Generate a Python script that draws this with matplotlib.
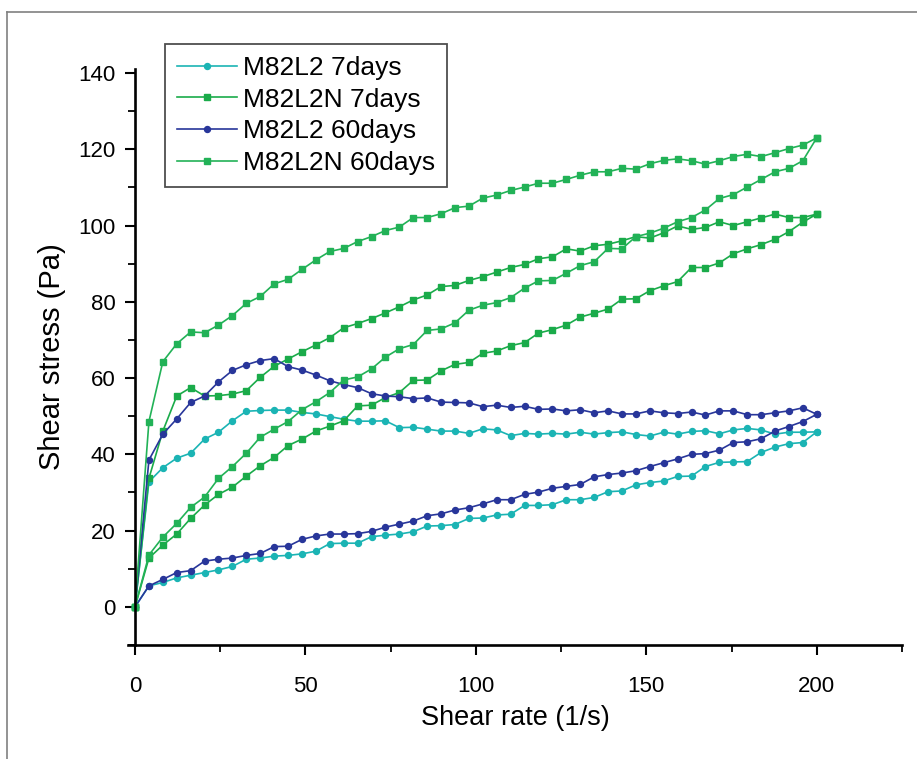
import numpy as np
import matplotlib.pyplot as plt
from matplotlib.lines import Line2D
from matplotlib.ticker import MultipleLocator

plt.rcParams['font.family'] = ['Liberation Sans', 'DejaVu Sans']

# shear rate points (50 readings from 0 to 200 1/s)
rate = np.linspace(0, 200, 50)

# M82L2 7days - upper and lower branch of the loop
l2_7d_hi = [0, 32.8, 36.5, 39.0, 40.3, 44.0, 45.8, 48.8, 51.3, 51.5,
            51.6, 51.6, 51.0, 50.6, 49.9, 49.2, 48.7, 48.7, 48.8, 47.0,
            47.1, 46.6, 46.1, 46.1, 45.5, 46.7, 46.4, 44.9, 45.5, 45.3,
            45.5, 45.3, 45.8, 45.3, 45.7, 45.9, 45.2, 44.8, 45.8, 45.3,
            46.0, 46.2, 45.4, 46.4, 46.8, 46.4, 45.3, 45.8, 45.8, 45.9]
l2_7d_lo = [0, 5.5, 6.4, 7.6, 8.3, 9.0, 9.7, 10.6, 12.5, 12.8,
            13.3, 13.5, 13.9, 14.6, 16.6, 16.7, 16.7, 18.4, 18.8, 19.1,
            19.7, 21.2, 21.3, 21.6, 23.2, 23.3, 24.1, 24.3, 26.6, 26.6,
            26.8, 28.1, 28.1, 28.7, 30.2, 30.4, 32.0, 32.6, 33.0, 34.2,
            34.3, 36.8, 37.9, 38.0, 38.1, 40.5, 41.9, 42.8, 43.1, 45.9]

# M82L2N 7days
l2n_7d_hi = [0, 33.7, 46.1, 55.3, 57.5, 55.3, 55.4, 55.8, 56.7, 60.2,
             63.1, 65.0, 66.9, 68.7, 70.6, 73.2, 74.3, 75.6, 77.1, 78.7,
             80.5, 81.8, 84.0, 84.3, 85.6, 86.6, 87.8, 89.0, 89.8, 91.3,
             91.8, 93.9, 93.3, 94.7, 95.1, 96.0, 97.1, 96.7, 98.1, 99.9,
             99.0, 99.5, 101.0, 100.0, 101.0, 102.0, 103.0, 102.1, 102.1, 103.0]
l2n_7d_lo = [0, 12.8, 16.2, 19.1, 23.2, 26.7, 29.5, 31.4, 34.3, 37.0,
             39.2, 42.3, 44.0, 46.1, 47.4, 48.8, 52.7, 52.9, 54.9, 56.2,
             59.4, 59.5, 61.9, 63.6, 64.1, 66.5, 67.1, 68.5, 69.3, 71.8,
             72.7, 73.9, 76.0, 77.0, 78.1, 80.7, 80.8, 82.9, 84.2, 85.3,
             89.0, 89.0, 90.2, 92.6, 93.9, 95.0, 96.4, 98.4, 100.9, 103.0]

# M82L2 60days
l2_60d_hi = [0, 38.5, 45.3, 49.3, 53.6, 55.3, 59.0, 62.0, 63.5, 64.6,
             65.1, 63.0, 62.1, 60.8, 59.3, 58.3, 57.5, 55.9, 55.3, 55.1,
             54.6, 54.8, 53.7, 53.6, 53.5, 52.5, 52.9, 52.3, 52.6, 51.8,
             51.9, 51.4, 51.7, 50.9, 51.4, 50.6, 50.6, 51.4, 50.9, 50.7,
             51.1, 50.3, 51.4, 51.4, 50.4, 50.4, 50.9, 51.4, 52.2, 50.5]
l2_60d_lo = [0, 5.5, 7.2, 9.0, 9.5, 12.0, 12.5, 12.8, 13.5, 14.0,
             15.8, 15.9, 17.7, 18.6, 19.1, 19.1, 19.2, 19.8, 20.9, 21.7,
             22.5, 23.9, 24.4, 25.4, 26.0, 27.0, 28.1, 28.1, 29.5, 30.1,
             31.1, 31.6, 32.1, 34.1, 34.7, 35.1, 35.7, 36.8, 37.8, 38.8,
             40.0, 40.2, 41.1, 43.1, 43.3, 44.1, 46.1, 47.3, 48.6, 50.5]

# M82L2N 60days
l2n_60d_hi = [0, 48.6, 64.3, 69.0, 72.1, 71.9, 73.9, 76.4, 79.6, 81.4,
              84.7, 85.9, 88.5, 91.0, 93.2, 94.0, 95.8, 97.1, 98.7, 99.6,
              102.1, 102.1, 103.1, 104.7, 105.1, 107.2, 108.0, 109.2, 110.1, 111.1,
              111.1, 112.1, 113.2, 114.1, 114.1, 115.0, 114.8, 116.2, 117.1, 117.5,
              117.0, 116.1, 117.0, 118.1, 118.7, 118.1, 119.1, 120.2, 121.1, 123.0]
l2n_60d_lo = [0, 13.6, 18.3, 21.9, 26.1, 28.8, 33.7, 36.8, 40.3, 44.5,
              46.6, 48.6, 51.7, 53.8, 56.2, 59.5, 60.3, 62.4, 65.5, 67.7,
              68.8, 72.5, 72.9, 74.5, 77.8, 79.1, 79.8, 81.1, 83.6, 85.5,
              85.6, 87.5, 89.5, 90.5, 94.0, 93.9, 97.1, 98.0, 99.3, 101.0,
              102.1, 104.1, 107.1, 108.1, 110.1, 112.1, 114.1, 115.0, 117.0, 123.0]

labels = ['M82L2 7days', 'M82L2N 7days', 'M82L2 60days', 'M82L2N 60days']
colors = ['#1bb4b4', '#1aab4a', '#28369a', '#22b257']
markers = ['o', 's', 'o', 's']
series = [(l2_7d_hi, l2_7d_lo), (l2n_7d_hi, l2n_7d_lo),
          (l2_60d_hi, l2_60d_lo), (l2n_60d_hi, l2n_60d_lo)]

fig = plt.figure(figsize=(9.17, 7.59), dpi=100)
ax = fig.add_axes([0.1398, 0.1502, 0.8438, 0.7586])

for (hi, lo), lab, c, m in zip(series, labels, colors, markers):
    x = np.concatenate([rate, rate[::-1]])
    y = np.concatenate([hi, lo[::-1]])
    ax.plot(x, y, color=c, marker=m, markersize=4.3, linewidth=1.2, label=lab)

ax.set_xlim(-2, 225)
ax.set_ylim(-10, 141)
ax.spines['left'].set_position(('data', 0))
ax.spines['top'].set_visible(False)
ax.spines['right'].set_visible(False)
for s in ['left', 'bottom']:
    ax.spines[s].set_linewidth(1.9)

ax.xaxis.set_major_locator(MultipleLocator(50))
ax.xaxis.set_minor_locator(MultipleLocator(25))
ax.yaxis.set_major_locator(MultipleLocator(20))
ax.yaxis.set_minor_locator(MultipleLocator(10))
ax.tick_params(which='major', direction='out', length=7, width=1.5, labelsize=16)
ax.tick_params(axis='x', which='major', pad=15)
ax.tick_params(axis='y', which='major', pad=7)
ax.tick_params(which='minor', direction='out', length=5, width=1.3)

ax.set_xlabel('Shear rate (1/s)', fontsize=19.5, labelpad=6)
ax.set_ylabel('Shear stress (Pa)', fontsize=21, labelpad=9)

leg = ax.legend(loc='upper left', bbox_to_anchor=(165 / 917, 1 - 44 / 759),
                bbox_transform=fig.transFigure, borderaxespad=0, fontsize=19,
                frameon=True, fancybox=False, edgecolor='#222222',
                handlelength=2.27, handletextpad=0.23, labelspacing=0.29,
                borderpad=0.45)
leg.get_frame().set_linewidth(1.3)

# grey frame around the picture
fig.add_artist(Line2D([7 / 917, 1], [1 - 12 / 759, 1 - 12 / 759],
                      transform=fig.transFigure, color='#808080', linewidth=1.2))
fig.add_artist(Line2D([7 / 917, 7 / 917], [0, 1 - 12 / 759],
                      transform=fig.transFigure, color='#808080', linewidth=1.2))

fig.savefig('out.png', dpi=100)
